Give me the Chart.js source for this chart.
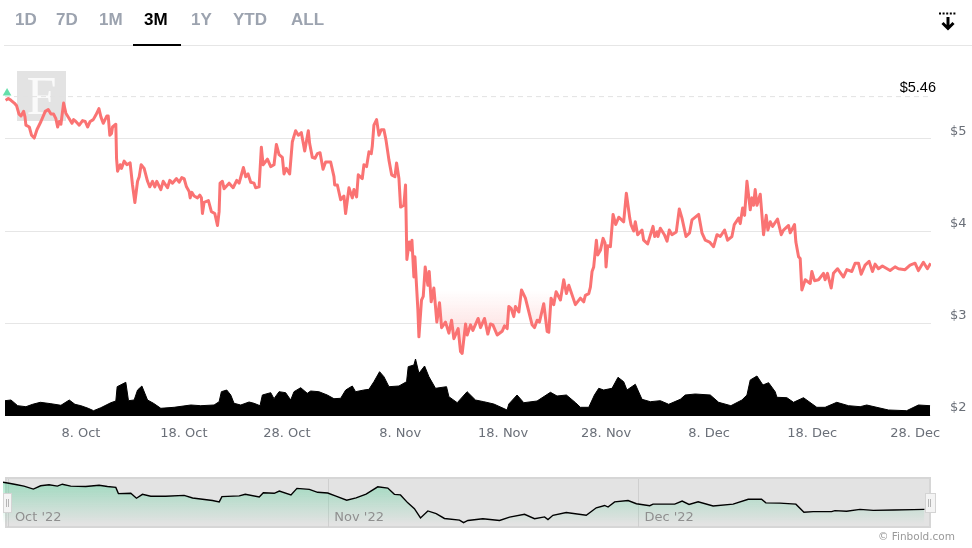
<!DOCTYPE html>
<html>
<head>
<meta charset="utf-8">
<title>3M price chart</title>
<script src="https://cdn.jsdelivr.net/npm/chart.js@4"></script>
<style>
    html, body { margin: 0; padding: 0; background: #fff; overflow: hidden; }
    #page { position: relative; width: 972px; height: 548px; }
    #page > * { position: absolute; }
    .tab { top: 9px; font: bold 17px "Liberation Sans", sans-serif; color: #9ca3af; line-height: 22px; }
    .tab.active { color: #000; }
    #headerLine { left: 4px; right: 0; top: 45px; height: 1px; background: #e6e6e6; }
    #activeLine { left: 133px; top: 44px; width: 48px; height: 2px; background: #000; }
    #logo { left: 17px; top: 71px; width: 49px; height: 50px; background: #e3e3e3; color: #fafafa;
        font: 54px/50px "Liberation Serif", serif; text-align: center; }
    #navBack { left: 5px; top: 477px; width: 922px; height: 47px; background: #e3e3e3; border: 2px solid #d6d6d6; }
    .handle { top: 493px; height: 18px; background: #f4f4f4; border: 1px solid #d4d4d4; }
    .handle::after { content: ""; position: absolute; left: 2px; top: 5px; width: 1px; height: 8px;
        border-left: 1px solid #b5b5b5; border-right: 1px solid #b5b5b5; }
    #credit { right: 17px; top: 530px; font: 10.5px "DejaVu Sans", sans-serif; color: #999; line-height: 13px; }
</style>
</head>
<body>
<div id="page">
    <div id="logo">F</div>
    <div id="headerLine"></div>
    <div id="activeLine"></div>
    <svg style="left:936px;top:10px" width="24" height="22" viewBox="0 0 24 22">
        <path d="M3 3.5H21" stroke="#000" stroke-width="2" stroke-dasharray="2 1.6" fill="none"/>
        <path d="M12 7V18M6.5 13L12 18.5L17.500 13" stroke="#000" stroke-width="3" fill="none"/>
    </svg>
    <div id="navBack"></div>
    <canvas id="priceChart" width="972" height="450" style="left:0;top:0"></canvas>
    <canvas id="navChart" width="972" height="54" style="left:0;top:476px"></canvas>
    <div class="handle" style="left:3px;width:7px"></div>
    <div class="handle" style="left:925px;width:9px"></div>
    <div id="credit">© Finbold.com</div>
</div>

<script>
const tabLabels = ['1D', '7D', '1M', '3M', '1Y', 'YTD', 'ALL'];
const tabLefts = [15, 56, 99, 144, 191, 233, 291];
const activeTab = '3M';

const firstDay = 0.63;
const lastDay = 90.54;
const xTickDays = [8, 18, 28, 39, 49, 59, 69, 79, 89];
const xTickLabels = ['8. Oct', '18. Oct', '28. Oct', '8. Nov', '18. Nov', '28. Nov', '8. Dec', '18. Dec', '28. Dec'];
const priceTicks = [2, 3, 4, 5];
const highPrice = 5.46;

// day = days counted from 0 Oct 2022
const priceDays = [
    0.69, 0.95, 1.21, 1.53, 1.76, 1.99, 2.18, 2.44, 2.57, 2.66, 2.99, 3.21, 3.47, 3.73, 4.12, 4.54, 4.83, 5.09, 5.35, 5.57,
    5.74, 5.90, 6.06, 6.32, 6.54, 6.87, 7.13, 7.29, 7.51, 7.84, 8.16, 8.42, 8.65, 8.90, 9.20, 9.45, 9.75, 9.94, 10.17, 10.52,
    10.65, 10.81, 10.97, 11.07, 11.39, 11.46, 11.56, 11.81, 11.94, 12.20, 12.46, 12.78, 13.01, 13.24, 13.50, 13.66, 13.85, 14.14, 14.47, 14.69,
    14.95, 15.18, 15.37, 15.76, 15.99, 16.41, 16.63, 16.89, 17.28, 17.54, 17.80, 18.02, 18.25, 18.51, 18.61, 18.77, 18.99, 19.32, 19.54, 19.70,
    19.80, 19.96, 20.38, 20.67, 21.00, 21.26, 21.42, 21.51, 21.74, 21.90, 22.39, 22.78, 23.13, 23.36, 23.78, 24.00, 24.23, 24.49, 24.81, 24.97,
    25.30, 25.52, 25.69, 26.11, 26.43, 26.75, 26.98, 27.24, 27.56, 27.72, 27.95, 28.27, 28.53, 28.85, 29.11, 29.40, 29.73, 30.08, 30.21, 30.47,
    30.73, 30.96, 31.22, 31.51, 31.76, 32.25, 32.57, 32.64, 32.90, 33.22, 33.54, 33.70, 34.03, 34.35, 34.51, 34.77, 34.93, 35.32, 35.48, 35.74,
    35.97, 36.19, 36.29, 36.45, 36.71, 36.94, 37.16, 37.42, 37.62, 37.91, 38.17, 38.49, 38.65, 38.88, 39.04, 39.36, 39.52, 39.65, 39.88, 40.07,
    40.14, 40.33, 40.43, 40.72, 40.82, 41.07, 41.24, 41.43, 41.69, 41.82, 42.01, 42.27, 42.56, 42.82, 43.02, 43.40, 43.73, 43.99, 44.21, 44.63,
    44.86, 45.02, 45.35, 45.51, 45.83, 46.06, 46.57, 46.80, 47.19, 47.51, 47.77, 48.00, 48.42, 48.90, 49.13, 49.39, 49.55, 49.77, 50.03, 50.19,
    50.52, 50.78, 51.16, 51.81, 52.04, 52.30, 52.52, 52.94, 53.27, 53.43, 53.65, 53.91, 54.14, 54.56, 54.88, 55.14, 55.37, 56.01, 56.50, 56.82,
    56.98, 57.31, 57.47, 57.63, 57.79, 58.05, 58.18, 58.44, 58.70, 58.89, 58.99, 59.15, 59.41, 59.67, 59.93, 60.22, 60.70, 60.96, 61.29, 61.41,
    61.67, 61.83, 62.06, 62.48, 62.64, 63.03, 63.55, 63.71, 63.94, 64.03, 64.26, 64.65, 64.91, 65.13, 65.39, 65.81, 66.10, 66.36, 66.75, 67.10,
    67.33, 67.98, 68.30, 68.62, 69.04, 69.43, 69.76, 70.08, 70.50, 70.79, 71.21, 71.44, 71.86, 72.02, 72.25, 72.44, 72.67, 72.99, 73.15, 73.31,
    73.47, 73.64, 73.96, 74.28, 74.54, 74.70, 74.93, 75.16, 75.64, 76.00, 76.22, 76.71, 76.87, 77.29, 77.42, 77.68, 77.84, 78.00, 78.33, 78.81,
    78.97, 79.23, 79.62, 80.10, 80.26, 80.49, 80.85, 81.07, 81.46, 82.04, 82.37, 82.85, 83.17, 83.50, 83.76, 84.14, 84.53, 84.86, 85.11, 85.44,
    85.82, 86.57, 87.05, 87.38, 88.02, 88.51, 88.99, 89.32, 89.80, 90.19, 90.51
];
const priceValues = [
    5.42, 5.44, 5.42, 5.39, 5.36, 5.27, 5.25, 5.30, 5.24, 5.15, 5.13, 5.04, 5.01, 5.10, 5.19, 5.30, 5.32, 5.27, 5.27, 5.22,
    5.13, 5.19, 5.16, 5.39, 5.28, 5.22, 5.17, 5.21, 5.19, 5.15, 5.20, 5.19, 5.13, 5.19, 5.21, 5.26, 5.33, 5.24, 5.17, 5.25,
    5.25, 5.04, 5.06, 5.13, 5.16, 4.79, 4.65, 4.72, 4.68, 4.76, 4.72, 4.74, 4.50, 4.31, 4.54, 4.59, 4.72, 4.68, 4.54, 4.48,
    4.54, 4.48, 4.54, 4.45, 4.54, 4.47, 4.55, 4.52, 4.57, 4.53, 4.58, 4.57, 4.48, 4.43, 4.36, 4.42, 4.38, 4.36, 4.39, 4.36,
    4.19, 4.31, 4.33, 4.21, 4.19, 4.06, 4.21, 4.52, 4.54, 4.46, 4.52, 4.47, 4.55, 4.52, 4.69, 4.59, 4.62, 4.53, 4.52, 4.47,
    4.48, 4.91, 4.72, 4.78, 4.70, 4.72, 4.94, 4.83, 4.80, 4.62, 4.68, 4.62, 4.97, 5.09, 5.04, 5.07, 4.87, 5.09, 4.95, 4.80,
    4.79, 4.84, 4.85, 4.67, 4.75, 4.75, 4.59, 4.50, 4.50, 4.34, 4.38, 4.19, 4.47, 4.36, 4.45, 4.37, 4.61, 4.57, 4.72, 4.70,
    4.86, 4.84, 4.92, 5.15, 5.21, 5.04, 5.10, 5.10, 4.99, 4.77, 4.61, 4.59, 4.74, 4.57, 4.26, 4.28, 4.50, 3.69, 3.88, 3.79,
    3.90, 3.50, 3.72, 3.14, 2.85, 3.25, 3.29, 3.61, 3.41, 3.56, 3.23, 3.38, 3.01, 3.22, 2.95, 3.01, 2.89, 3.03, 2.83, 2.94,
    2.69, 2.67, 2.99, 2.87, 2.98, 2.92, 3.05, 2.95, 3.05, 2.88, 2.99, 2.98, 2.87, 2.91, 2.97, 2.94, 3.18, 3.16, 3.07, 3.18,
    3.12, 3.36, 3.27, 2.98, 2.95, 3.03, 3.01, 3.21, 2.91, 2.90, 3.27, 3.20, 3.34, 3.25, 3.47, 3.32, 3.41, 3.20, 3.27, 3.23,
    3.30, 3.32, 3.39, 3.56, 3.61, 3.90, 3.74, 3.79, 3.92, 3.87, 3.61, 3.84, 3.83, 4.18, 4.07, 4.15, 4.10, 4.41, 4.14, 4.07,
    4.00, 4.10, 3.96, 4.01, 3.90, 3.86, 4.05, 3.94, 3.99, 3.94, 4.03, 3.96, 3.89, 4.01, 3.96, 3.99, 4.24, 4.14, 3.94, 3.98,
    4.12, 4.18, 3.98, 3.90, 3.88, 3.83, 3.96, 3.94, 4.01, 3.90, 3.94, 4.07, 4.14, 4.08, 4.25, 4.17, 4.54, 4.23, 4.36, 4.28,
    4.45, 4.28, 4.40, 3.96, 4.17, 4.01, 4.10, 4.05, 4.13, 3.96, 4.01, 4.06, 3.98, 4.07, 3.88, 3.72, 3.70, 3.36, 3.47, 3.43,
    3.56, 3.46, 3.47, 3.54, 3.47, 3.54, 3.38, 3.54, 3.59, 3.50, 3.58, 3.56, 3.65, 3.65, 3.53, 3.63, 3.67, 3.56, 3.64, 3.59,
    3.62, 3.57, 3.61, 3.59, 3.58, 3.63, 3.65, 3.57, 3.66, 3.59, 3.65
];

const volumeDays = [
    0.63, 1.21, 1.86, 2.66, 3.31, 4.06, 5.09, 6.06, 6.87, 7.42, 8.00, 8.71, 9.23, 9.94, 10.91, 11.39, 11.52, 12.36, 12.62, 13.17,
    13.50, 13.92, 14.47, 15.05, 15.76, 17.05, 18.67, 19.64, 20.93, 21.42, 21.64, 22.16, 22.55, 22.87, 23.52, 24.33, 24.81, 25.39, 25.62, 26.43,
    26.75, 27.24, 27.88, 28.37, 28.69, 29.34, 29.98, 30.31, 31.11, 31.92, 32.57, 33.22, 33.71, 34.35, 34.67, 35.48, 35.97, 36.45, 37.00, 37.42,
    37.91, 38.88, 39.62, 39.78, 40.33, 40.49, 40.82, 41.37, 41.79, 42.43, 43.50, 43.73, 44.54, 45.50, 46.31, 47.12, 48.09, 49.38, 49.55, 50.35,
    51.00, 52.29, 53.59, 54.23, 55.14, 56.03, 56.50, 57.31, 57.86, 58.28, 58.76, 59.57, 60.15, 60.70, 61.02, 61.83, 62.48, 63.29, 64.26, 65.07,
    66.20, 66.68, 67.65, 69.11, 69.92, 71.11, 72.18, 72.67, 72.99, 73.64, 74.22, 74.77, 75.41, 75.58, 76.55, 77.19, 78.16, 79.45, 80.26, 81.39,
    82.53, 83.66, 84.30, 86.41, 88.18, 89.32, 90.45
];
const volumeValues = [
    15.3, 16, 10.3, 9.3, 11.7, 13.7, 12.3, 10.7, 16, 11.7, 10.3, 7.7, 5.3, 8.3, 13.3, 15, 29.3, 33.7, 15.3, 16,
    26, 30, 16, 12.7, 7.7, 8.7, 11, 10.3, 11, 14.3, 24.3, 26, 21, 12.7, 11, 14, 12.7, 10.3, 21, 23.3,
    17.3, 24.3, 23.3, 16, 24.3, 28.3, 22.7, 25, 24.3, 21, 17.3, 17.7, 26, 30, 24.3, 26, 26.7, 34.3, 44.3, 39.3,
    29.3, 30, 34.3, 49.3, 51, 57, 42.7, 50, 39.3, 27.7, 29.3, 19.3, 13.3, 24.3, 16, 14.3, 12, 6, 12, 21,
    13.3, 15, 23.7, 20, 21, 13.3, 8.7, 8.7, 21, 27.7, 26, 27.7, 38.7, 34.3, 26, 31.7, 16.7, 14.3, 15.3, 11.7,
    16.7, 21, 22, 21, 13.7, 10.3, 16, 21, 36, 40, 31, 33.3, 24.3, 18.7, 18.3, 13.7, 18.3, 8.7, 8.7, 13.7,
    10.3, 9.3, 11, 6, 5.3, 11, 10.3
];

const navMonthDays = [1.2, 32.15, 62.2];
const navMonthLabels = ["Oct '22", "Nov '22", "Dec '22"];
const navDays = [
    0.63, 1.21, 1.86, 2.66, 3.57, 4.28, 5.09, 5.90, 6.38, 7.19, 8.65, 9.94, 10.75, 11.56, 11.81, 13.01, 13.56, 14.14, 14.95, 16.40,
    18.18, 19.00, 20.93, 21.58, 21.84, 23.52, 24.10, 25.46, 25.85, 26.91, 27.40, 28.53, 29.11, 30.31, 31.11, 32.09, 32.89, 33.93, 34.84, 35.81,
    36.94, 37.91, 38.55, 39.14, 39.85, 40.49, 41.08, 41.79, 42.60, 43.40, 44.86, 45.25, 45.67, 47.12, 48.74, 49.71, 51.16, 52.13, 53.10, 53.43,
    53.91, 55.20, 57.14, 58.11, 58.92, 59.25, 59.89, 61.19, 62.00, 63.29, 63.61, 65.71, 66.43, 67.10, 67.98, 69.43, 71.37, 72.83, 74.12, 74.54,
    75.90, 77.45, 78.23, 79.13, 80.91, 81.23, 82.36, 83.66, 84.95, 86.89, 88.83, 89.90
];
const navValues = [
    5.43, 5.36, 5.27, 5.16, 4.95, 5.18, 5.25, 5.16, 5.29, 5.16, 5.13, 5.22, 5.13, 5.07, 4.64, 4.66, 4.32, 4.59, 4.46, 4.46,
    4.52, 4.34, 4.16, 4.07, 4.43, 4.48, 4.59, 4.41, 4.70, 4.66, 4.82, 4.55, 5.00, 4.93, 4.73, 4.68, 4.46, 4.18, 4.34, 4.61,
    5.11, 5.02, 4.59, 4.55, 4.00, 3.60, 2.96, 3.44, 3.26, 2.92, 2.81, 2.63, 2.78, 2.90, 2.78, 3.01, 3.21, 2.90, 3.03, 2.85,
    3.14, 3.33, 3.14, 3.66, 3.82, 3.71, 4.07, 4.16, 3.94, 3.80, 3.91, 3.91, 4.12, 3.89, 4.07, 3.78, 3.91, 4.25, 4.25, 4.00,
    3.98, 3.91, 3.35, 3.39, 3.39, 3.46, 3.42, 3.55, 3.48, 3.51, 3.53, 3.55
];

const page = document.getElementById('page');
tabLabels.forEach((label, i) => {
    const tab = document.createElement('div');
    tab.className = label === activeTab ? 'tab active' : 'tab';
    tab.style.left = tabLefts[i] + 'px';
    tab.textContent = label;
    page.appendChild(tab);
});

const toPoints = (days, values) => days.map((d, i) => ({ x: d, y: values[i] }));

const priceCanvas = document.getElementById('priceChart');
const pinkFade = priceCanvas.getContext('2d').createLinearGradient(0, 290, 0, 330);
pinkFade.addColorStop(0, 'rgba(250, 115, 115, 0)');
pinkFade.addColorStop(1, 'rgba(250, 115, 115, 0.2)');

// Libellé du plus haut au bout de la ligne pointillée
const highLabel = {
    id: 'highLabel',
    afterDatasetsDraw(chart) {
        const { ctx, scales } = chart;
        ctx.save();
        ctx.font = '14.5px "Liberation Sans"';
        ctx.fillStyle = '#000';
        ctx.textAlign = 'right';
        ctx.textBaseline = 'middle';
        ctx.fillText('$' + highPrice.toFixed(2), 936, scales.y.getPixelForValue(highPrice) - 9);
        ctx.restore();
    }
};

new Chart(priceCanvas, {
    type: 'line',
    data: {
        datasets: [{
            data: [{ x: 0.83, y: 5.5 }],
            showLine: false,
            pointStyle: 'triangle',
            pointRadius: 5,
            pointBackgroundColor: '#66dfab',
            pointBorderWidth: 0,
            clip: false
        }, {
            data: toPoints(priceDays, priceValues),
            borderColor: 'rgb(250, 115, 115)',
            borderWidth: 3,
            borderJoinStyle: 'round',
            pointRadius: 0,
            fill: { target: { value: 3.35 }, above: 'rgba(0, 0, 0, 0)', below: pinkFade }
        }, {
            data: [{ x: firstDay, y: highPrice }, { x: lastDay, y: highPrice }],
            borderColor: '#e2e2e2',
            borderWidth: 1,
            borderDash: [5, 4],
            pointRadius: 0
        }, {
            data: toPoints(volumeDays, volumeValues),
            yAxisID: 'volume',
            borderColor: '#000',
            backgroundColor: '#000',
            borderWidth: 1,
            pointRadius: 0,
            fill: 'origin'
        }]
    },
    options: {
        responsive: false,
        animation: false,
        layout: { padding: { left: 3, top: 46, right: 0, bottom: 0 } },
        plugins: { legend: { display: false }, tooltip: { enabled: false } },
        scales: {
            x: {
                type: 'linear',
                min: firstDay,
                max: lastDay,
                afterBuildTicks: axis => { axis.ticks = xTickDays.map(value => ({ value })); },
                afterFit: axis => { axis.height = 34; },
                border: { display: false },
                grid: { display: false },
                ticks: {
                    autoSkip: false,
                    maxRotation: 0,
                    padding: 2,
                    color: '#6a6f78',
                    font: { family: 'DejaVu Sans', size: 13 },
                    callback: value => xTickLabels[xTickDays.indexOf(value)]
                }
            },
            y: {
                position: 'right',
                min: 1.99,
                max: 6.01,
                afterBuildTicks: axis => { axis.ticks = priceTicks.map(value => ({ value })); },
                afterFit: axis => { axis.width = 41; },
                border: { display: false },
                grid: { color: '#e6e6e6', drawTicks: false },
                ticks: {
                    padding: 19,
                    labelOffset: -7,
                    color: '#6a6f78',
                    font: { family: 'DejaVu Sans', size: 13 },
                    callback: value => '$' + value
                }
            },
            volume: { display: false, min: 0, max: 370 }
        }
    },
    plugins: [highLabel]
});

const navCanvas = document.getElementById('navChart');
const greenFade = navCanvas.getContext('2d').createLinearGradient(0, 4, 0, 48);
greenFade.addColorStop(0, 'rgba(110, 210, 165, 0.6)');
greenFade.addColorStop(1, 'rgba(110, 210, 165, 0)');

// Étiquettes des mois à l'intérieur du navigateur
const navMonths = {
    id: 'navMonths',
    afterDatasetsDraw(chart) {
        const { ctx, scales, chartArea } = chart;
        ctx.save();
        ctx.font = '13px "DejaVu Sans"';
        ctx.fillStyle = '#8f8f8f';
        ctx.textBaseline = 'middle';
        navMonthDays.forEach((day, i) => {
            ctx.fillText(navMonthLabels[i], scales.x.getPixelForValue(day) + 6, chartArea.bottom - 9);
        });
        ctx.restore();
    }
};

new Chart(navCanvas, {
    type: 'line',
    data: {
        datasets: [{
            data: toPoints(navDays, navValues),
            borderColor: '#000',
            borderWidth: 1.4,
            backgroundColor: greenFade,
            pointRadius: 0,
            fill: 'start'
        }]
    },
    options: {
        responsive: false,
        animation: false,
        layout: { padding: { left: 3, top: 3, right: 41, bottom: 3 } },
        plugins: { legend: { display: false }, tooltip: { enabled: false } },
        scales: {
            x: {
                type: 'linear',
                min: firstDay,
                max: lastDay,
                afterBuildTicks: axis => { axis.ticks = navMonthDays.map(value => ({ value })); },
                afterFit: axis => { axis.height = 0; },
                border: { display: false },
                grid: { color: '#cfcfcf', drawTicks: false },
                ticks: { display: false }
            },
            y: { display: false, min: 2.33, max: 5.65 }
        }
    },
    plugins: [navMonths]
});
</script>
</body>
</html>
